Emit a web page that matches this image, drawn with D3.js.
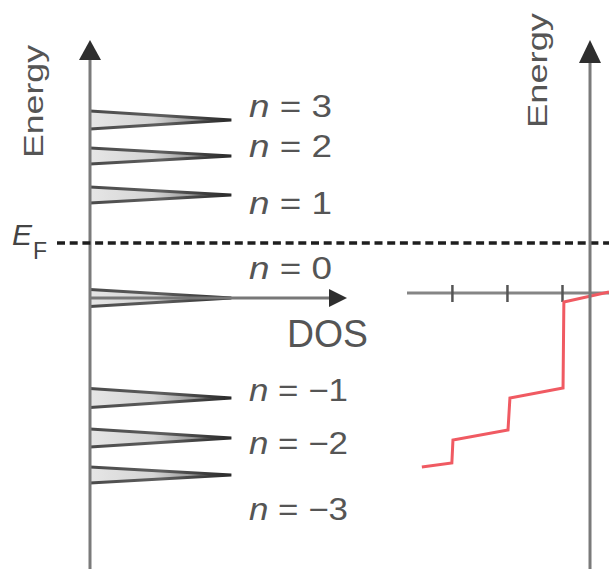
<!DOCTYPE html>
<html><head><meta charset="utf-8">
<script src="https://d3js.org/d3.v7.min.js"></script>
<style>html,body{margin:0;padding:0;background:#fff}svg{display:block}</style>
</head><body><script>
// ---- data ----
const levelLabels = ["3", "2", "1", "0", "\u22121", "\u22122", "\u22123"];
const levelEnergy = [1.78, 1.42, 1.03, 0, -1.00, -1.40, -1.77];
const levelHalfWidth = [0.09, 0.08, 0.08, 0.085, 0.095, 0.09, 0.08];
const peakDOS = [0.55, 0.55, 0.55, 0.55, 0.55, 0.55, 0.55];
const labelEnergy = [1.81, 1.41, 0.84, 0.19, -1.03, -1.56, -2.22];
const fermiEnergy = 0.55;
const sigmaTicks = [-5, -3, -1];
const stepSigma  = [-6.11, -5.02, -4.98, -2.98, -2.91, -0.98, -0.95, 0.69];
const stepEnergy = [-1.74, -1.70, -1.47, -1.37, -1.05, -0.95, -0.09, 0.01];

const W = 609, H = 569;
const svg = d3.select("body").append("svg").attr("width", W).attr("height", H);
const defs = svg.append("defs");
const fillGrad = defs.append("linearGradient").attr("id", "pk").attr("x1", "0").attr("x2", "1").attr("y1", "0").attr("y2", "0");
[[0, "#e6e6e6"], [0.45, "#d4d4d4"], [0.8, "#888"], [1, "#2a2a2a"]].forEach(([o, c]) => fillGrad.append("stop").attr("offset", o).attr("stop-color", c));
const strokeGrad = defs.append("linearGradient").attr("id", "pks").attr("x1", "0").attr("x2", "1").attr("y1", "0").attr("y2", "0");
[[0, "#4a4a4a"], [0.5, "#5e5e5e"], [1, "#2a2a2a"]].forEach(([o, c]) => strokeGrad.append("stop").attr("offset", o).attr("stop-color", c));

// ---- scales ----
const yL = d3.scaleLinear().domain([-2.71, 2.58]).range([569, 40]);
const xDOS = d3.scaleLinear().domain([0, 1]).range([90, 347]);
const yR = d3.scaleLinear().domain([-2.76, 2.53]).range([569, 40]);
const xS = d3.scaleLinear().domain([-6.65, 0.69]).range([407, 609]);

const txt = "#555";
const font = "Liberation Sans, Arial, Helvetica, sans-serif";

// ---- left panel: peaks ----
const idx = d3.range(levelEnergy.length);
svg.append("g").selectAll("path").data(idx).join("path")
  .attr("d", i => {
    const p = d3.path();
    p.moveTo(xDOS(0), yL(levelEnergy[i] + levelHalfWidth[i]));
    p.lineTo(xDOS(peakDOS[i]), yL(levelEnergy[i]));
    p.lineTo(xDOS(0), yL(levelEnergy[i] - levelHalfWidth[i]));
    return p.toString();
  })
  .attr("fill", "url(#pk)").attr("stroke", "url(#pks)").attr("stroke-width", 3)
  .attr("stroke-linejoin", "miter");

// DOS axis
const y0 = yL(0);
svg.append("line").attr("x1", xDOS(0)).attr("x2", xDOS(0.93)).attr("y1", y0).attr("y2", y0)
  .attr("stroke", "#777").attr("stroke-width", 3);
svg.append("path").attr("d", `M${xDOS(1)},${y0} L${xDOS(0.93)},${y0 - 9} L${xDOS(0.93)},${y0 + 9} Z`).attr("fill", "#2e2e2e");

// left energy axis
svg.append("line").attr("x1", xDOS(0)).attr("x2", xDOS(0)).attr("y1", yL(2.40)).attr("y2", H)
  .attr("stroke", "#7a7a7a").attr("stroke-width", 3);
svg.append("path").attr("d", `M${xDOS(0)},${yL(2.58)} L${xDOS(0) - 11},${yL(2.38)} L${xDOS(0) + 11},${yL(2.38)} Z`).attr("fill", "#2e2e2e");

// labels n = ...
const lab = svg.append("g").attr("font-family", font).attr("fill", txt).attr("font-size", 31);
idx.forEach(i => {
  const t = lab.append("text").attr("x", 249).attr("y", yL(labelEnergy[i]))
    .attr("textLength", levelLabels[i].length > 1 ? 99 : 83).attr("lengthAdjust", "spacingAndGlyphs");
  t.append("tspan").attr("font-style", "italic").text("n");
  t.append("tspan").text(" = " + levelLabels[i]);
});

// DOS label
svg.append("text").attr("x", 287).attr("y", 347).attr("font-family", font).attr("font-size", 38)
  .attr("fill", txt).attr("textLength", 81).attr("lengthAdjust", "spacingAndGlyphs").text("DOS");

// Energy labels
svg.append("text").attr("transform", "translate(43,158) rotate(-90)").attr("font-family", font)
  .attr("font-size", 28).attr("fill", txt).attr("textLength", 113).attr("lengthAdjust", "spacingAndGlyphs").text("Energy");
svg.append("text").attr("transform", "translate(547,128) rotate(-90)").attr("font-family", font)
  .attr("font-size", 27).attr("fill", txt).attr("textLength", 115).attr("lengthAdjust", "spacingAndGlyphs").text("Energy");

// E_F
const ef = svg.append("text").attr("x", 12).attr("y", yL(fermiEnergy) + 2).attr("font-family", font).attr("fill", "#444");
ef.append("tspan").attr("font-style", "italic").attr("font-size", 30).text("E");
ef.append("tspan").attr("font-size", 23).attr("dy", 14).attr("dx", 1).text("F");

// Fermi dashed line
svg.append("line").attr("x1", 57).attr("x2", W).attr("y1", yL(fermiEnergy)).attr("y2", yL(fermiEnergy))
  .attr("stroke", "#1e1e1e").attr("stroke-width", 3.5).attr("stroke-dasharray", "8,4.7");

// ---- right panel ----
const yr0 = yR(0);
svg.append("line").attr("x1", xS(-6.65)).attr("x2", W).attr("y1", yr0).attr("y2", yr0)
  .attr("stroke", "#858585").attr("stroke-width", 3);
svg.append("g").selectAll("line").data(sigmaTicks).join("line")
  .attr("x1", d => xS(d)).attr("x2", d => xS(d)).attr("y1", yr0 - 8).attr("y2", yr0 + 9)
  .attr("stroke", "#555").attr("stroke-width", 2.5);

svg.append("path").datum(d3.range(stepSigma.length))
  .attr("d", d3.line().x(i => xS(stepSigma[i])).y(i => yR(stepEnergy[i])))
  .attr("fill", "none").attr("stroke", "#f05a62").attr("stroke-width", 3).attr("stroke-linejoin", "miter");

svg.append("line").attr("x1", xS(0)).attr("x2", xS(0)).attr("y1", yR(2.32)).attr("y2", H)
  .attr("stroke", "#7a7a7a").attr("stroke-width", 3);
svg.append("path").attr("d", `M${xS(0)},${yR(2.53)} L${xS(0) - 11},${yR(2.30)} L${xS(0) + 11},${yR(2.30)} Z`).attr("fill", "#2e2e2e");
</script></body></html>
